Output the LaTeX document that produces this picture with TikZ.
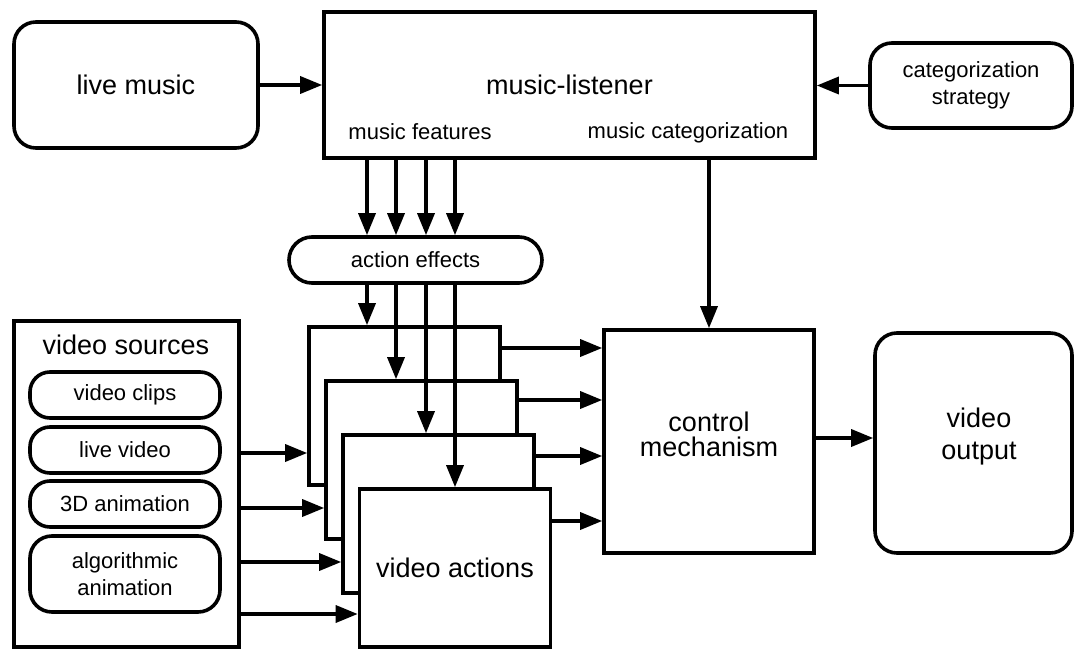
\documentclass[tikz,border=0pt]{standalone}
\usepackage{fontspec}
\setmainfont{Liberation Sans}
\usetikzlibrary{arrows.meta}

\begin{document}
\begin{tikzpicture}[->,>={Triangle[length=22pt,width=17pt]},x=1pt,y=-1pt,
                    line width=3.4pt]
  \tikzstyle{block}=[draw=black,fill=white,text=black,line width=3.6pt,inner sep=0pt,
                     align=center,font=\fontsize{27}{31}\selectfont]
  \tikzstyle{rblock}=[block,rounded corners=22pt]
  \tikzstyle{pill}=[block,rounded corners=20pt,minimum width=190pt,
                    font=\fontsize{22}{27}\selectfont]
  \tikzstyle{small}=[text=black,inner sep=0pt,align=center,font=\fontsize{22}{27}\selectfont]
  \tikzstyle{big}=[text=black,inner sep=0pt,align=center,font=\fontsize{27}{25}\selectfont]
  \tikzstyle{actbox}=[block,minimum width=191pt,minimum height=158pt]

  \useasboundingbox (0,0) rectangle (1086,650);

  % top row
  \node[rblock] (live) [minimum width=244pt,minimum height=126pt] at (136,85) {live music};
  \node[block] (listener) [minimum width=491pt,minimum height=146pt] at (569.5,85) {music-listener};
  \node[small] (feat) at (420,132) {music features};
  \node[small] (mcat) at (688,133) {music categorization};
  \node[rblock] (strategy) [minimum width=202pt,minimum height=85pt,
                 font=\fontsize{22}{27}\selectfont] at (971,85.5) {categorization\\strategy};
  \node[pill] (effects) [minimum width=253pt,minimum height=46pt,rounded corners=23pt] at (415.5,260) {action effects};

  % video sources
  \node[block] (sources) [minimum width=225pt,minimum height=326pt] at (126.5,484) {};
  \node[big] (srctitle) at (126,345) {video sources};
  \node[pill] (clips) [minimum height=46pt] at (125,395) {video clips};
  \node[pill] (livevid) [minimum height=46pt] at (125,450) {live video};
  \node[pill] (anim3d) [minimum height=46pt] at (125,504) {3D animation};
  \node[pill] (algo) [minimum height=76pt,rounded corners=22pt] at (125,574) {algorithmic\\animation};

  % stacked video actions
  \node[actbox] (va1) at (404.5,406) {};
  \node[actbox] (va2) at (421.5,460) {};
  \node[actbox] (va3) at (438.5,514) {};
  \node[actbox] (va4) at (455,568) {video actions};

  \node[block] (control) [minimum width=210pt,minimum height=223pt] at (709,441.5) {};
  \node[big] (ctrltext) at (709,434) {control\\mechanism};
  \node[rblock] (output) [minimum width=197pt,minimum height=220pt] at (973.5,443) {};
  \node[big,font=\fontsize{27}{32}\selectfont] (outtext) at (979,437) {video\\output};

  \draw (live) -- (listener);
  \draw (strategy.west) -- (strategy.west -| listener.east);
  \foreach \x in {367,396,426,455}
    \draw (listener.south -| \x,0) -- (effects.north -| \x,0);
  \foreach \x/\b in {367/va1,396/va2,426/va3,455/va4}
    \draw (effects.south -| \x,0) -- (\b.north -| \x,0);
  \draw (control.north |- listener.south) -- (control.north);
  \foreach \b/\y in {va1/348,va2/400,va3/456,va4/521}
    \draw (\b.east |- 0,\y) -- (control.west |- 0,\y);
  \foreach \b/\y in {va1/453,va2/508,va3/562,va4/614}
    \draw (sources.east |- 0,\y) -- (\b.west |- 0,\y);
  \draw (control.east |- 0,438) -- (output.west |- 0,438);
\end{tikzpicture}
\end{document}
